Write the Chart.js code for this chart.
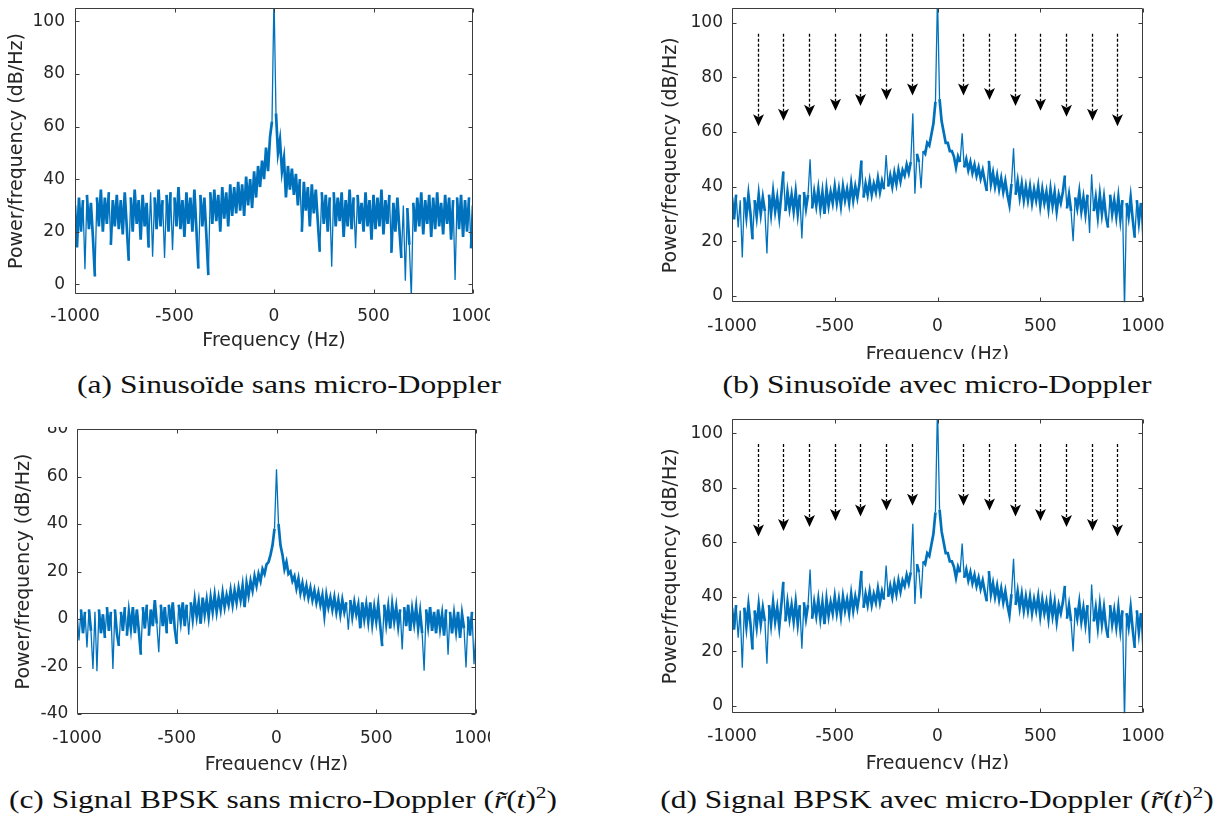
<!DOCTYPE html>
<html>
<head>
<meta charset="utf-8">
<title>Spectres avec et sans micro-Doppler</title>
<script src="https://cdn.jsdelivr.net/npm/chart.js@4.4.1/dist/chart.umd.min.js"></script>
<style>
  html, body { margin: 0; padding: 0; background: #fff; }
  body { width: 1221px; height: 821px; position: relative; overflow: hidden; }
  .clip { position: absolute; overflow: hidden; }
  .clip canvas { position: absolute; }
  .caption {
    position: absolute; width: 800px; height: 30px; line-height: 30px;
    text-align: center; white-space: nowrap; color: #111;
    font-family: 'Liberation Serif', serif; font-size: 26px;
    transform: scaleX(1.21); transform-origin: 50% 50%;
  }
  .caption sup { font-size: 0.68em; line-height: 0; vertical-align: 0.55em; }
</style>
</head>
<body>

<div class="caption" style="left:-111px; top:370px;">(a) Sinusoïde sans micro-Doppler</div>
<div class="caption" style="left:537px; top:370px;">(b) Sinusoïde avec micro-Doppler</div>
<div class="caption" style="left:-117px; top:785px;">(c) Signal BPSK sans micro-Doppler (<i>r&#771;</i>(<i>t</i>)<sup>2</sup>)</div>
<div class="caption" style="left:537px; top:785px;">(d) Signal BPSK avec micro-Doppler (<i>r&#771;</i>(<i>t</i>)<sup>2</sup>)</div>

<script>
  // Power spectral density (dB/Hz), one value every 10 Hz from -1000 to 1000 Hz

  // (a) sinusoid, no micro-Doppler
  const psdA = [
    30, 14, 33, 20, 32, 5.7, 34, 21, 31, 18,      // -1000 .. -910
    3, 33, 22, 36, 20, 33, 23, 35, 15, 32,        // -900
    22, 34, 21, 32, 19, 35, 22, 9, 33, 20,        // -800
    36, 23, 32, 17, 34, 22, 31, 14, 35, 10.5,     // -700
    33, 21, 36, 22, 32, 10, 34, 20, 35, 13,       // -600
    33, 22, 37, 21, 32, 18, 35, 23, 33, 20,       // -500
    36, 21, 6, 34, 22, 33, 19, 3.5, 35, 23,       // -400
    36, 24, 34, 20, 37, 25, 35, 22, 38, 26,       // -300
    37, 27, 39, 28, 38, 26, 41, 30, 40, 29,       // -200
    43, 33, 45, 37, 47, 40, 52, 43, 56, 62,       // -100
    110,                                          // 0
    65, 50, 55, 43, 48, 33, 45, 36, 44, 34,       // 10 .. 100
    42, 30, 40, 20, 39, 28, 37, 22, 38, 27,       // 110
    36, 24, 12.4, 35, 23, 34, 20, 33, 6.7, 35,    // 210
    22, 33, 24, 35, 18, 32, 22, 36, 21, 33,       // 310
    13.7, 34, 23, 31, 20, 35, 22, 32, 17, 34,     // 410
    21, 33, 22, 36, 19, 32, 23, 34, 12, 31,       // 510
    20, 33, 21, 10, 30, 1.3, 29, 15, -5, 31,      // 610
    20, 33, 22, 35, 19, 32, 23, 34, 18, 33,       // 710
    21, 35, 22, 31, 19, 34, 23, 33, 17, 32,       // 810
    1.6, 33, 21, 34, 18, 32, 20, 33, 13.7, 30     // 910 .. 1000
  ];

  // (b) sinusoid with micro-Doppler
  const psdB = [
    36, 28, 37, 25, 35, 14, 36, 29, 37, 30,
    20.7, 35, 29, 37, 30, 36, 31, 15.5, 37, 30,
    38, 31, 36, 29, 37, 45.5, 31, 38, 32, 37,
    31, 38, 30, 37, 21, 38, 32, 37, 50, 32,
    38, 33, 39, 32, 38, 30, 39, 33, 38, 34,
    40, 34, 39, 33, 40, 35, 39, 34, 41, 35,
    40, 36, 41, 49.5, 36, 41, 37, 42, 37, 41,
    38, 43, 38, 42, 39, 51.5, 40, 44, 40, 45,
    41, 46, 42, 46, 44, 48, 45, 49, 66.8, 37.4,
    52, 49, 39.4, 53, 52, 56, 55, 59, 63, 71,
    110,
    72, 64, 60, 56, 56, 53, 53, 51, 47, 51,
    49, 59.5, 47, 50, 46, 49, 45, 48, 44, 47,
    43, 46, 42, 38.4, 49.4, 41, 45, 40, 44, 39,
    43, 38, 42, 37, 33.3, 41, 54, 37, 42, 36,
    41, 35, 40, 35, 40, 34, 39, 35, 40, 33,
    39, 34, 38, 32, 39, 33, 38, 31, 37, 34,
    38, 44, 32, 37, 31, 20, 36, 32, 38, 31,
    36, 30, 37, 23, 44.5, 31, 36, 29, 37, 30,
    36, 29, 25, 37, 30, 35, 29, 36, 28, 35,
    -5, 34, 29, 36, 28, 21.3, 35, 27, 34, 19.5
  ];

  // (c) BPSK squared, no micro-Doppler
  const psdC = [
    3, -9, 4, -6, 3, -12, 4, -5, -21, 3,
    -22, 4, -6, 2, -8, 5, -5, 3, -21, 4,
    -6, -11.4, 3, -5, 5, -7, 3, -4, 5, -6,
    4, -5, -15, 5, -4, 6, -7, 4, -3, 8,
    -2, -14, 6, -3, 5, -6, 6, -2, 7, -4,
    -10.5, 6, -1, 7, -3, 6, -6.6, 7, 0, 8,
    1, 7, -2, 9, 2, 8, 1, 9, 3, 10,
    3, 9, 4, 11, 5, 10, 6, 12, 6, 12,
    7, 13, 8, 14, 5, 15, 10, 16, 12, 18,
    14, 19, 16, 21, 19, 23, 24, 27, 31, 38,
    63,
    40, 31, 27, 21, 24, 19, 20, 16, 18, 13,
    17, 11, 15, 10, 14, 9, 13, 8, 12, 7,
    11, 6, 10, 1.7, 10, 5, 9, 4, 9, 3,
    8, 2, 8, 3, 7, -4.5, 8, 1, 7, 2,
    6, -3.9, 7, 0, 6, -1, 7, -2, 5, -1,
    6, -3, -11.4, 6, -2, 5, -4, 6, -1, 5,
    -3, 4, -12.8, 5, -3, 6, -5, 4, -2, 5,
    -4, 3, -6, -21.8, 4, -3, 5, -5, 3, -6,
    4, -4, 2, -7, 4, -15, 3, -6, 2, -5,
    3, -8, 2, -4, -20.4, 1, -7, 3, -19, -5
  ];

  // (d) BPSK squared with micro-Doppler: reads the same as (b)
  const psdD = psdB.slice();

  // micro-Doppler harmonics marked by the dashed arrows in (b) and (d)
  const arrowFreqs = [-875, -750, -625, -500, -375, -250, -125, 125, 250, 375, 500, 625, 750, 875];
  const arrowTips = [62.1, 64.1, 65.6, 67.8, 69.5, 71.7, 73.4, 73.4, 71.7, 69.5, 67.8, 65.6, 64.1, 62.1];
  const arrowTop = 96;

  const xTicks = [-1000, -500, 0, 500, 1000];
  const yTicksSine = [0, 20, 40, 60, 80, 100];
  const yTicksBpsk = [-40, -20, 0, 20, 40, 60, 80];

  const freqs = psdA.map(function (_, i) { return -1000 + 10 * i; });

  const BLUE = '#0072BD';
  const INK = '#262626';
  const TICK_SIZE = 17;
  const TITLE_SIZE = 19;

  function plainNumber(v) {
    return String(v);
  }

  // box with inward ticks on all four sides, plus the optional arrows
  const matlabAxes = {
    id: 'matlabAxes',
    afterDatasetsDraw(chart, args, opts) {
      const ctx = chart.ctx;
      const a = chart.chartArea;
      const xs = chart.scales.x;
      const ys = chart.scales.y;
      const l = Math.round(a.left) + 0.5;
      const r = Math.round(a.right) - 0.5;
      const t = Math.round(a.top) + 0.5;
      const b = Math.round(a.bottom) - 0.5;
      ctx.save();

      if (opts.arrows) {
        ctx.strokeStyle = '#000';
        ctx.fillStyle = '#000';
        ctx.lineWidth = 1.3;
        const yTop = ys.getPixelForValue(arrowTop);
        arrowFreqs.forEach(function (f, i) {
          const x = Math.round(xs.getPixelForValue(f)) + 0.5;
          const yTip = ys.getPixelForValue(arrowTips[i]);
          ctx.setLineDash([3, 2]);
          ctx.beginPath();
          ctx.moveTo(x, yTop);
          ctx.lineTo(x, yTip - 9);
          ctx.stroke();
          ctx.setLineDash([]);
          ctx.beginPath();
          ctx.moveTo(x, yTip);
          ctx.lineTo(x - 5.5, yTip - 12);
          ctx.lineTo(x, yTip - 9);
          ctx.lineTo(x + 5.5, yTip - 12);
          ctx.closePath();
          ctx.fill();
        });
      }

      ctx.strokeStyle = '#3c3c3c';
      ctx.lineWidth = 1;
      ctx.beginPath();
      ctx.rect(l, t, r - l, b - t);
      xs.ticks.forEach(function (tk) {
        const x = Math.round(xs.getPixelForValue(tk.value)) + 0.5;
        ctx.moveTo(x, b); ctx.lineTo(x, b - 4);
        ctx.moveTo(x, t); ctx.lineTo(x, t + 4);
      });
      ys.ticks.forEach(function (tk) {
        const y = Math.round(ys.getPixelForValue(tk.value)) + 0.5;
        ctx.moveTo(l, y); ctx.lineTo(l + 4, y);
        ctx.moveTo(r, y); ctx.lineTo(r - 4, y);
      });
      ctx.stroke();
      ctx.restore();
    }
  };

  // page geometry of each subfigure: canvas rect, visible crop, plot box
  const panels = [
    { psd: psdA, yMin: -3.7, yMax: 105.1, yTicks: yTicksSine, arrows: false, spikeStep: 19,
      canvas: [0, 0, 520, 370], clip: [0, 0, 490, 370], area: [75, 8, 473, 294],
      yTitleX: 16.7, xTitleY: 341, xTickPad: 12, yTickPad: 10 },
    { psd: psdB, yMin: -2.4, yMax: 105.3, yTicks: yTicksSine, arrows: true, spikeStep: 9.5,
      canvas: [620, 0, 601, 370], clip: [620, 0, 601, 358.5], area: [732, 8.3, 1143, 302.3],
      yTitleX: 671, xTitleY: 355.5, xTickPad: 14, yTickPad: 9 },
    { psd: psdC, yMin: -40, yMax: 80, yTicks: yTicksBpsk, arrows: false, spikeStep: 11,
      canvas: [0, 400, 520, 380], clip: [0, 427, 490, 343], area: [77, 429, 476, 714],
      yTitleX: 24.5, xTitleY: 765, xTickPad: 14, yTickPad: 8.7 },
    { psd: psdD, yMin: -2.7, yMax: 105.1, yTicks: yTicksSine, arrows: true, spikeStep: 9.5,
      canvas: [620, 400, 601, 380], clip: [620, 410, 601, 358.5], area: [732, 419.3, 1143, 713.3],
      yTitleX: 671, xTitleY: 764.5, xTickPad: 12.6, yTickPad: 9 }
  ];

  function makeChart(p) {
    const cx = p.canvas[0], cy = p.canvas[1], cw = p.canvas[2], ch = p.canvas[3];
    const wrap = document.createElement('div');
    wrap.className = 'clip';
    wrap.style.left = p.clip[0] + 'px';
    wrap.style.top = p.clip[1] + 'px';
    wrap.style.width = p.clip[2] + 'px';
    wrap.style.height = p.clip[3] + 'px';
    const canvas = document.createElement('canvas');
    canvas.width = cw;
    canvas.height = ch;
    canvas.style.width = cw + 'px';
    canvas.style.height = ch + 'px';
    canvas.style.left = (cx - p.clip[0]) + 'px';
    canvas.style.top = (cy - p.clip[1]) + 'px';
    wrap.appendChild(canvas);
    document.body.appendChild(wrap);

    const half = TITLE_SIZE * 1.2 / 2;
    const aL = p.area[0] - cx, aT = p.area[1] - cy, aR = p.area[2] - cx, aB = p.area[3] - cy;
    const padLeft = p.yTitleX - half - cx;
    const yWidth = aL - padLeft;
    const scaleBottom = p.xTitleY + half - cy;
    const xHeight = scaleBottom - aB;

    new Chart(canvas, {
      type: 'line',
      data: {
        datasets: [{
          data: freqs.map(function (f, i) { return { x: f, y: p.psd[i] }; }),
          borderColor: BLUE,
          borderWidth: 2.7,
          pointRadius: 0,
          tension: 0,
          fill: false,
          // thin strokes for isolated spikes and dips, heavier for the noise band
          segment: {
            borderWidth: function (s) {
              return Math.abs(s.p1.parsed.y - s.p0.parsed.y) > p.spikeStep ? 1.3 : 2.7;
            }
          }
        }]
      },
      options: {
        responsive: false,
        animation: false,
        devicePixelRatio: 1,
        layout: {
          autoPadding: false,
          padding: { left: padLeft, top: aT, right: cw - aR, bottom: ch - scaleBottom }
        },
        plugins: {
          legend: { display: false },
          tooltip: { enabled: false },
          matlabAxes: { arrows: p.arrows }
        },
        scales: {
          x: {
            type: 'linear',
            min: -1000,
            max: 1000,
            afterBuildTicks: function (s) { s.ticks = xTicks.map(function (v) { return { value: v }; }); },
            afterFit: function (s) { s.height = xHeight; s.paddingLeft = 0; s.paddingRight = 0; },
            grid: { display: false, drawTicks: false },
            border: { display: false },
            ticks: {
              autoSkip: false, maxRotation: 0, padding: p.xTickPad, color: INK,
              font: { family: 'DejaVu Sans', size: TICK_SIZE },
              callback: plainNumber
            },
            title: {
              display: true, text: 'Frequency (Hz)', color: INK, padding: 0,
              font: { family: 'DejaVu Sans', size: TITLE_SIZE, lineHeight: 1.2 }
            }
          },
          y: {
            min: p.yMin,
            max: p.yMax,
            afterBuildTicks: function (s) { s.ticks = p.yTicks.map(function (v) { return { value: v }; }); },
            afterFit: function (s) { s.width = yWidth; s.paddingTop = 0; s.paddingBottom = 0; },
            grid: { display: false, drawTicks: false },
            border: { display: false },
            ticks: {
              padding: p.yTickPad, color: INK,
              font: { family: 'DejaVu Sans', size: TICK_SIZE },
              callback: plainNumber
            },
            title: {
              display: true, text: 'Power/frequency (dB/Hz)', color: INK, padding: 0,
              font: { family: 'DejaVu Sans', size: TITLE_SIZE, lineHeight: 1.2 }
            }
          }
        }
      },
      plugins: [matlabAxes]
    });
  }

  panels.forEach(makeChart);
</script>
</body>
</html>
